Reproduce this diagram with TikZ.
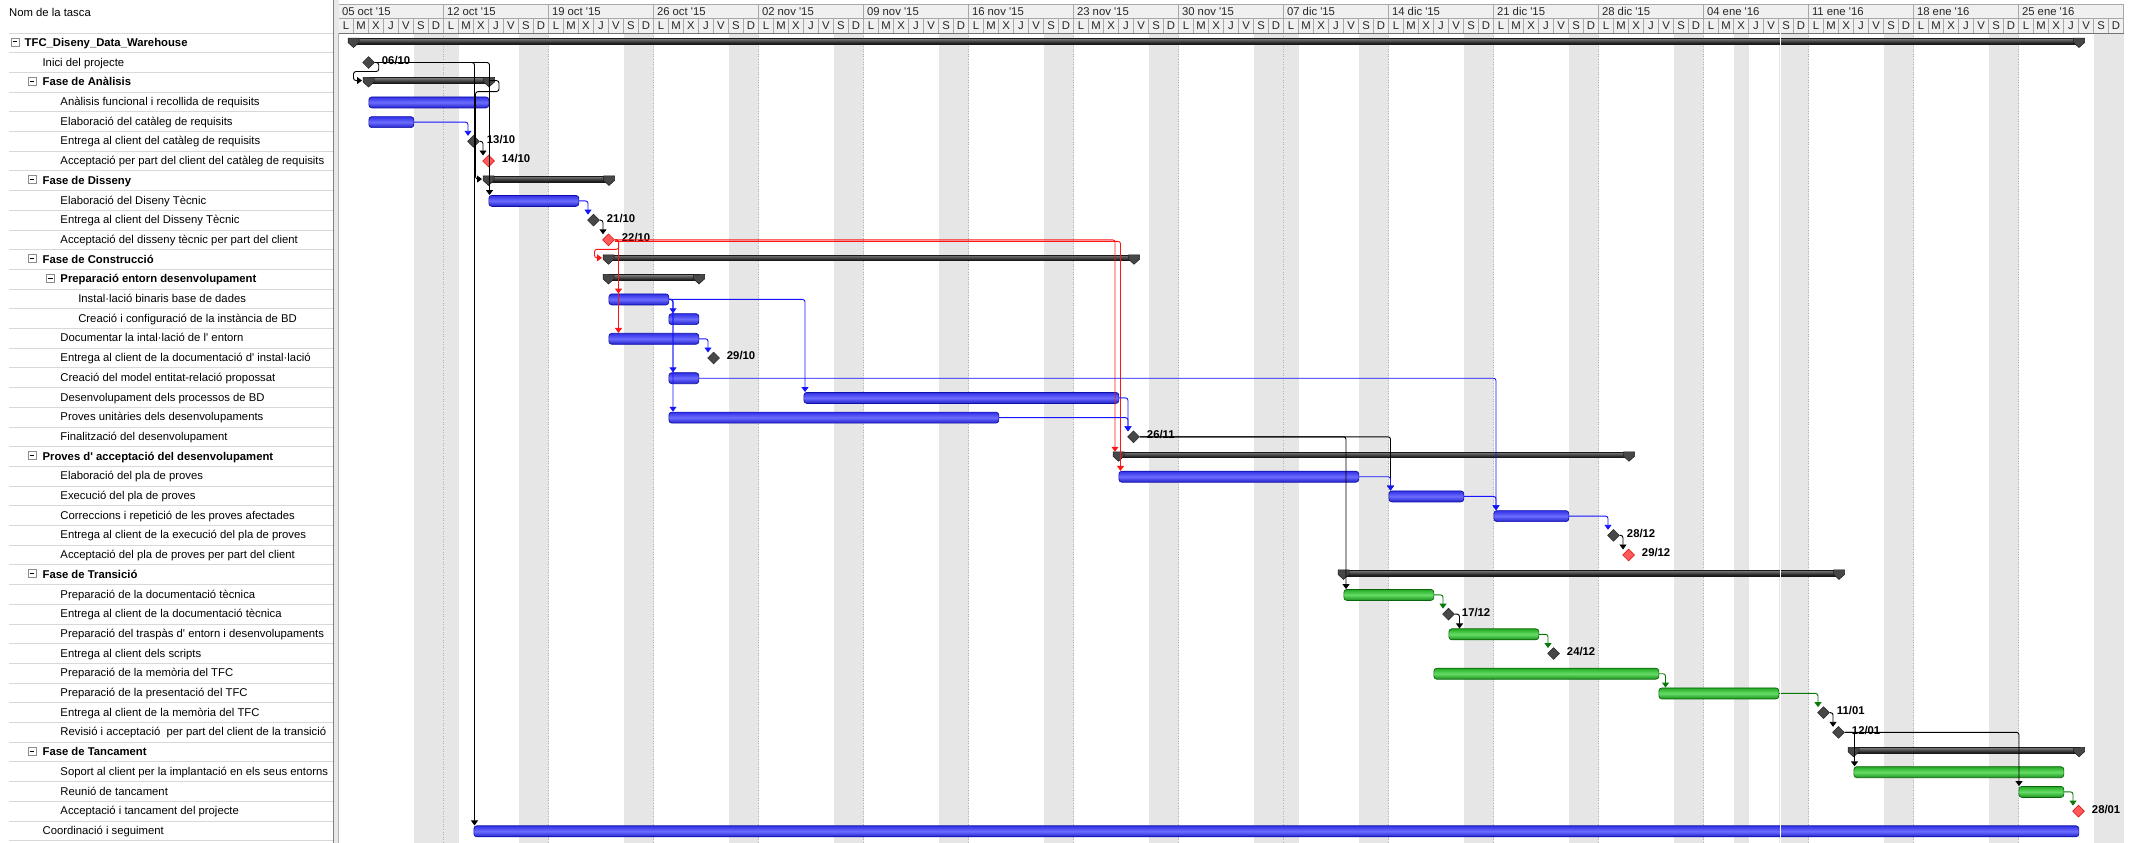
\documentclass[tikz,border=0pt]{standalone}
\usepackage{fontspec}
\setmainfont{Liberation Sans}
\usetikzlibrary{shapes.geometric,arrows.meta}

\definecolor{bandgray}{HTML}{E6E6E6}
\definecolor{hdrbg}{HTML}{F0F0F0}
\definecolor{hdrline}{HTML}{A8A8A8}
\definecolor{rowline}{HTML}{D8D8D8}
\definecolor{bluetop}{HTML}{3030E6}
\definecolor{bluemid}{HTML}{6C6CFF}
\definecolor{bluebot}{HTML}{2020CC}
\definecolor{blueedge}{HTML}{1010A8}
\definecolor{greentop}{HTML}{22AA22}
\definecolor{greenmid}{HTML}{66DD66}
\definecolor{greenbot}{HTML}{1A921A}
\definecolor{greenedge}{HTML}{0C640C}
\definecolor{lnblue}{HTML}{1414FF}
\definecolor{lnred}{HTML}{FF1414}
\definecolor{lngreen}{HTML}{087808}
\definecolor{milegray}{HTML}{484848}
\definecolor{milered}{HTML}{FF5A5A}

\newcommand\q{\textquotesingle}
% task bar: name, row, start, finish, style
\newcommand\tbar[5]{\node[#5, minimum width={(#4-#3)*15bp}] (#1) at (#3,#2) {};}
% summary bar with its two end caps: name, row, start, finish
\newcommand\sumcaps[1]{%
  \draw[sumcap] ([xshift=-5.5bp]#1.north west) -- ++(11bp,0) -- ++(0,-4.5bp) -- ++(-5.5bp,-5bp) -- ++(-5.5bp,5bp) -- cycle;
  \draw[sumcap] ([xshift=-5.5bp]#1.north east) -- ++(11bp,0) -- ++(0,-4.5bp) -- ++(-5.5bp,-5bp) -- ++(-5.5bp,5bp) -- cycle;}
\newcommand\tsum[4]{\node[sumbar, minimum width={(#4-#3)*15bp}] (#1) at (#3,#2) {};\sumcaps{#1}}
% milestone: name, row, time, label, style
\newcommand\tmile[5]{%
  \node[#5] (#1) at (#3,#2) {};
  \node[mlabel] (#1l) at (#1.east) {#4};
  \coordinate (#1tip) at ([xshift=-5.5bp,yshift=5.5bp]#1.center);}
% outline fold box: name, x, row
\newcommand\fold[3]{\node[minusbox] (#1) at (#2,#3) {};
  \draw[line width=0.7bp] ([xshift=1.8bp]#1.west) -- ([xshift=-1.8bp]#1.east);}

\begin{document}
\begin{tikzpicture}[x=1bp,y=1bp,
  every node/.style={font=\fontsize{11.3bp}{13bp}\selectfont},
  tname/.style={anchor=base west, inner sep=0pt, yshift=-3.6bp},
  tsumname/.style={tname, font=\fontsize{11.3bp}{13bp}\selectfont\bfseries},
  minusbox/.style={draw=black!45, fill=white, minimum size=8bp, inner sep=0pt, line width=0.5bp, yshift=1bp},
  hdrtxt/.style={inner sep=0pt, text=black!85},
  bluebar/.style={rectangle, rounded corners=3bp, minimum height=11bp, inner sep=0pt, anchor=west, yshift=-0.5bp,
    draw=blueedge, line width=0.7bp, top color=bluetop, bottom color=bluebot, middle color=bluemid},
  greenbar/.style={rectangle, rounded corners=3bp, minimum height=11bp, inner sep=0pt, anchor=west, yshift=-0.5bp,
    draw=greenedge, line width=0.7bp, top color=greentop, bottom color=greenbot, middle color=greenmid},
  sumbar/.style={rectangle, minimum height=5.7bp, inner sep=0pt, anchor=west, yshift=1.65bp,
    draw=black!90, line width=0.5bp, top color=black!50, bottom color=black!95},
  sumcap/.style={fill=black!72, draw=black!90, line width=0.5bp},
  mile/.style={diamond, minimum width=12bp, minimum height=12bp, inner sep=0pt, fill=milegray, draw=black!85, line width=0.5bp},
  redmile/.style={mile, fill=milered, draw=red!85!black},
  mlabel/.style={anchor=west, inner sep=0pt, font=\fontsize{11.3bp}{13bp}\selectfont\bfseries, xshift=7bp, yshift=2bp},
  link/.style={line width=0.9bp, rounded corners=2.5bp, -{Triangle[width=7bp,length=5bp]}},
]
\useasboundingbox (0,0) rectangle (2147,-843);
\fill[white] (0,0) rectangle (2147,-843);

% ---------- timescale background: weekends, holidays, week lines ----------
\begin{scope}[shift={(338.5bp,-23.1bp)}, x=15bp, y=-19.7bp]
  \foreach \k in {0,...,16} \fill[bandgray] ({7*\k+5},0.5025) rectangle ({7*\k+7},41.62);
  \foreach \h in {7,63,93} \fill[bandgray] (\h,0.5025) rectangle ({\h+1},41.62);
  \foreach \k in {1,...,16} \draw[black!30, dotted, line width=0.6bp] ({7*\k},0.5025) -- ({7*\k},41.62);
\end{scope}

% ---------- timescale header ----------
\begin{scope}[shift={(338.5bp,0bp)}, x=15bp, y=1bp]
  \fill[hdrbg] (0,-4) rectangle (119,-33);
  \draw[hdrline] (0,-4) -- (119,-4) (0,-18) -- (119,-18) (119,-4) -- (119,-33);
  \draw[black!55] (0,-33) -- (119,-33);
  \foreach \k/\lab in {0/05 oct \q15,1/12 oct \q15,2/19 oct \q15,3/26 oct \q15,4/02 nov \q15,
      5/09 nov \q15,6/16 nov \q15,7/23 nov \q15,8/30 nov \q15,9/07 dic \q15,10/14 dic \q15,
      11/21 dic \q15,12/28 dic \q15,13/04 ene \q16,14/11 ene \q16,15/18 ene \q16,16/25 ene \q16} {
    \draw[hdrline] ({7*\k},-4) -- ({7*\k},-33);
    \node[hdrtxt, anchor=base west] (wk\k) at ({7*\k+0.22},-15.3) {\lab};
    \foreach \j/\l in {0/L,1/M,2/X,3/J,4/V,5/S,6/D} {
      \draw[hdrline] ({7*\k+\j},-18) -- ({7*\k+\j},-33);
      \node[hdrtxt, anchor=base] (dy\k-\j) at ({7*\k+\j+0.5},-29.3) {\l};
    }
  }
\end{scope}

% ---------- task list ----------
\fill[black!9] (333,0) rectangle (338.5,-843);
\draw[black!50] (333,0) -- (333,-843);
\draw[black!30] (338.5,-33) -- (338.5,-843);
\node[anchor=base west, inner sep=0pt] (hdrname) at (9,-16.5) {Nom de la tasca};
\foreach \i in {0,...,41} \draw[rowline, line width=1bp] (9,{-33-19.7*\i}) -- (333,{-33-19.7*\i});

\begin{scope}[shift={(0bp,-23.1bp)}, x=1bp, y=-19.7bp]
  \fold{f1}{15}{1}
  \fold{f3}{32}{3}
  \fold{f8}{32}{8}
  \fold{f12}{32}{12}
  \fold{f13}{50.3}{13}
  \fold{f22}{32}{22}
  \fold{f28}{32}{28}
  \fold{f37}{32}{37}
  \node[tsumname] (n1) at (24.5,1) {TFC\_Diseny\_Data\_Warehouse};
  \node[tname] (n2) at (42.4,2) {Inici del projecte};
  \node[tsumname] (n3) at (42.4,3) {Fase de Anàlisis};
  \node[tname] (n4) at (60.3,4) {Anàlisis funcional i recollida de requisits};
  \node[tname] (n5) at (60.3,5) {Elaboració del catàleg de requisits};
  \node[tname] (n6) at (60.3,6) {Entrega al client del catàleg de requisits};
  \node[tname] (n7) at (60.3,7) {Acceptació per part del client del catàleg de requisits};
  \node[tsumname] (n8) at (42.4,8) {Fase de Disseny};
  \node[tname] (n9) at (60.3,9) {Elaboració del Diseny Tècnic};
  \node[tname] (n10) at (60.3,10) {Entrega al client del Disseny Tècnic};
  \node[tname] (n11) at (60.3,11) {Acceptació del disseny tècnic per part del client};
  \node[tsumname] (n12) at (42.4,12) {Fase de Construcció};
  \node[tsumname] (n13) at (60.3,13) {Preparació entorn desenvolupament};
  \node[tname] (n14) at (78.1,14) {Instal·lació binaris base de dades};
  \node[tname] (n15) at (78.1,15) {Creació i configuració de la instància de BD};
  \node[tname] (n16) at (60.3,16) {Documentar la intal·lació de l\q{} entorn};
  \node[tname] (n17) at (60.3,17) {Entrega al client de la documentació d\q{} instal·lació};
  \node[tname] (n18) at (60.3,18) {Creació del model entitat-relació propossat};
  \node[tname] (n19) at (60.3,19) {Desenvolupament dels processos de BD};
  \node[tname] (n20) at (60.3,20) {Proves unitàries dels desenvolupaments};
  \node[tname] (n21) at (60.3,21) {Finalització del desenvolupament};
  \node[tsumname] (n22) at (42.4,22) {Proves d\q{} acceptació del desenvolupament};
  \node[tname] (n23) at (60.3,23) {Elaboració del pla de proves};
  \node[tname] (n24) at (60.3,24) {Execució del pla de proves};
  \node[tname] (n25) at (60.3,25) {Correccions i repetició de les proves afectades};
  \node[tname] (n26) at (60.3,26) {Entrega al client de la execució del pla de proves};
  \node[tname] (n27) at (60.3,27) {Acceptació del pla de proves per part del client};
  \node[tsumname] (n28) at (42.4,28) {Fase de Transició};
  \node[tname] (n29) at (60.3,29) {Preparació de la documentació tècnica};
  \node[tname] (n30) at (60.3,30) {Entrega al client de la documentació tècnica};
  \node[tname] (n31) at (60.3,31) {Preparació del traspàs d\q{} entorn i desenvolupaments};
  \node[tname] (n32) at (60.3,32) {Entrega al client dels scripts};
  \node[tname] (n33) at (60.3,33) {Preparació de la memòria del TFC};
  \node[tname] (n34) at (60.3,34) {Preparació de la presentació del TFC};
  \node[tname] (n35) at (60.3,35) {Entrega al client de la memòria del TFC};
  \node[tname] (n36) at (60.3,36) {Revisió i acceptació\ \ per part del client de la transició};
  \node[tsumname] (n37) at (42.4,37) {Fase de Tancament};
  \node[tname] (n38) at (60.3,38) {Soport al client per la implantació en els seus entorns};
  \node[tname] (n39) at (60.3,39) {Reunió de tancament};
  \node[tname] (n40) at (60.3,40) {Acceptació i tancament del projecte};
  \node[tname] (n41) at (42.4,41) {Coordinació i seguiment};
\end{scope}

% ---------- Gantt bars, milestones and links ----------
\begin{scope}[shift={(338.5bp,-23.1bp)}, x=15bp, y=-19.7bp]
  \tsum{s1}{1}{1}{116}
  \tmile{m2}{2}{2}{06/10}{mile}
  \tsum{s3}{3}{2}{10}
  \tbar{t04}{4}{2}{10}{bluebar}
  \tbar{t05}{5}{2}{5}{bluebar}
  \tmile{m6}{6}{9}{13/10}{mile}
  \tmile{m7}{7}{10}{14/10}{redmile}
  \tsum{s8}{8}{10}{18}
  \tbar{t09}{9}{10}{16}{bluebar}
  \tmile{m10}{10}{17}{21/10}{mile}
  \tmile{m11}{11}{18}{22/10}{redmile}
  \tsum{s12}{12}{18}{53}
  \tsum{s13}{13}{18}{24}
  \tbar{t14}{14}{18}{22}{bluebar}
  \tbar{t15}{15}{22}{24}{bluebar}
  \tbar{t16}{16}{18}{24}{bluebar}
  \tmile{m17}{17}{25}{29/10}{mile}
  \tbar{t18}{18}{22}{24}{bluebar}
  \tbar{t19}{19}{31}{52}{bluebar}
  \tbar{t20}{20}{22}{44}{bluebar}
  \tmile{m21}{21}{53}{26/11}{mile}
  \tsum{s22}{22}{52}{86}
  \tbar{t23}{23}{52}{68}{bluebar}
  \tbar{t24}{24}{70}{75}{bluebar}
  \tbar{t25}{25}{77}{82}{bluebar}
  \tmile{m26}{26}{85}{28/12}{mile}
  \tmile{m27}{27}{86}{29/12}{redmile}
  \tsum{s28}{28}{67}{100}
  \tbar{t29}{29}{67}{73}{greenbar}
  \tmile{m30}{30}{74}{17/12}{mile}
  \tbar{t31}{31}{74}{80}{greenbar}
  \tmile{m32}{32}{81}{24/12}{mile}
  \tbar{t33}{33}{73}{88}{greenbar}
  \tbar{t34}{34}{88}{96}{greenbar}
  \tmile{m35}{35}{99}{11/01}{mile}
  \tmile{m36}{36}{100}{12/01}{mile}
  \tsum{s37}{37}{101}{116}
  \tbar{t38}{38}{101}{115}{greenbar}
  \tbar{t39}{39}{112}{115}{greenbar}
  \tmile{m40}{40}{116}{28/01}{redmile}
  \tbar{t41}{41}{9}{116}{bluebar}

  % links from the project start
  \draw[link] (m2.east) -- ++(4bp,0) -- ++(0,-9bp) -| ([xshift=-15bp]s3.west) -- ([xshift=-6.5bp]s3.west);
  \draw[link] (m2.east) -| ([xshift=1bp]t41.north west);
  \draw[link] (m2.east) -| ([xshift=1bp]t09.north west);
  % analysis and design
  \draw[link] (s3.east) -- ++(10bp,0) -- ++(0,-11bp) -| ([xshift=-13bp]s8.west) -- ([xshift=-6.5bp]s8.west);
  \draw[link,lnblue] (t05.east) -| (m6tip);
  \draw[link] (m6.east) -| (m7tip);
  \draw[link,lnblue] (t09.east) -| (m10tip);
  \draw[link] (m10.east) -| (m11tip);
  % critical path from the design acceptance
  \draw[link,lnred] (m11.east) -- ++(4bp,0) -- ++(0,-9.5bp) -| ([xshift=-14bp]s12.west) -- ([xshift=-6.5bp]s12.west);
  \draw[link,lnred] (m11.east) -| ([xshift=10bp]t14.north west);
  \draw[link,lnred] (m11.east) -| ([xshift=10bp]t16.north west);
  \draw[link,lnred] (m11.east) -| ([xshift=-3.5bp]s22.north west);
  \draw[link,lnred] ([yshift=-1.5bp]m11.east) -| ([xshift=2bp]t23.north west);
  % construction
  \draw[link,lnblue] (t14.east) -| ([xshift=4.5bp]t15.north west);
  \draw[link,lnblue] (t14.east) -| ([xshift=4.5bp]t18.north west);
  \draw[link,lnblue] (t14.east) -| ([xshift=4.5bp]t20.north west);
  \draw[link,lnblue] (t14.east) -| ([xshift=1.5bp]t19.north west);
  \draw[link,lnblue] (t16.east) -| (m17tip);
  \draw[link,lnblue] (t18.east) -| ([xshift=2.5bp]t25.north west);
  \draw[link,lnblue] (t19.east) -| (m21tip);
  \draw[link,lnblue] (t20.east) -| (m21tip);
  % acceptance tests
  \draw[link] (m21.east) -| ([xshift=2bp]t24.north west);
  \draw[link] (m21.east) -| ([xshift=2.5bp]t29.north west);
  \draw[link,lnblue] (t23.east) -| ([xshift=2bp]t24.north west);
  \draw[link,lnblue] (t24.east) -| ([xshift=2.5bp]t25.north west);
  \draw[link,lnblue] (t25.east) -| (m26tip);
  \draw[link] (m26.east) -| (m27tip);
  % transition
  \draw[link,lngreen] (t29.east) -| (m30tip);
  \draw[link] (m30.east) -| ([xshift=11bp]t31.north west);
  \draw[link,lngreen] (t31.east) -| (m32tip);
  \draw[link,lngreen] (t33.east) -| ([xshift=7bp]t34.north west);
  \draw[link,lngreen] (t34.east) -| (m35tip);
  \draw[link] (m35.east) -| (m36tip);
  % closing
  \draw[link] (m36.east) -| ([xshift=1bp]t38.north west);
  \draw[link] (m36.east) -| ([xshift=0.5bp]t39.north west);
  \draw[link,lngreen] (t39.east) -| (m40tip);

  % page break marker
  \draw[white, line width=0.8bp] (96.15,0.5025) -- (96.15,41.62);
\end{scope}
\end{tikzpicture}
\end{document}
